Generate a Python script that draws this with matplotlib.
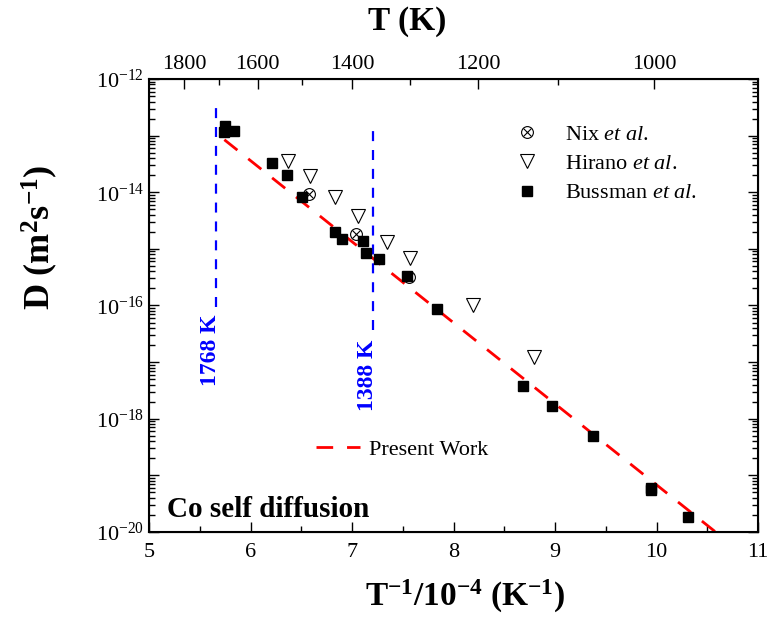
import numpy as np
import matplotlib
matplotlib.use("Agg")
import matplotlib.pyplot as plt
from matplotlib.ticker import FuncFormatter, NullFormatter, MultipleLocator, FixedLocator
from matplotlib.legend_handler import HandlerTuple

plt.rcParams['font.family'] = ['Liberation Serif', 'DejaVu Serif']
plt.rcParams['mathtext.fontset'] = 'custom'
plt.rcParams['mathtext.rm'] = 'Liberation Serif'
plt.rcParams['mathtext.it'] = 'Liberation Serif:italic'
plt.rcParams['mathtext.bf'] = 'Liberation Serif:bold'

# Experimental self-diffusion data (x = 10^4 / T, D in m^2/s)
nix_x = [6.579, 7.036, 7.562]
nix_D = [9.2e-15, 1.8e-15, 3.2e-16]

hirano_x = [6.372, 6.586, 6.833, 7.062, 7.342, 7.571, 8.190, 8.796]
hirano_D = [3.6e-14, 1.9e-14, 8.3e-15, 3.8e-15, 1.3e-15, 6.8e-16, 1.0e-16, 1.25e-17]

bussman_x = [5.749, 5.739, 5.837, 6.215, 6.356, 6.511, 6.833, 6.898, 7.111, 7.135,
             7.266, 7.545, 7.834, 8.688, 8.973, 9.377, 9.946, 9.946, 10.307]
bussman_D = [1.48e-13, 1.16e-13, 1.2e-13, 3.3e-14, 2.0e-14, 8.2e-15, 2.0e-15, 1.5e-15,
             1.4e-15, 8.4e-16, 6.5e-16, 3.35e-16, 8.7e-17, 3.8e-18, 1.7e-18, 5.0e-19,
             6.0e-20, 5.4e-20, 1.85e-20]

# Arrhenius fit of the present work: D = D0 exp(-Q / kT)
D0 = 1.4e-5          # m^2/s
Q = 2.84             # eV
kB = 8.617e-5        # eV/K
T_fit = np.linspace(1741.5, 930.0, 300)
D_fit = D0 * np.exp(-Q / (kB * T_fit))

# Reference temperatures marked by vertical lines
ref_T = [1768, 1388]
ref_labels = ['1768 K', '1388 K']
ref_line_top = [4.3e-13, 1.67e-13]
ref_line_bottom = [9.3e-17, 3.7e-17]
ref_label_D = [1.63e-17, 5.9e-18]

# Axis ranges and tick values
x_range = (5, 11)
decades = list(range(-20, -11))          # 10^-20 ... 10^-12

# Upper temperature axis
top_major_T = [1800, 1600, 1400, 1200, 1000]
top_minor_T = [1700, 1500, 1300, 1100]
top_scale, top_shift = 1.043, 0.45


def t_to_x(T):
    return top_scale * 1e4 / np.asarray(T, dtype=float) - top_shift


fig = plt.figure(figsize=(7.73, 6.19), dpi=100)
ax = fig.add_axes([0.1928, 0.1406, 0.7878, 0.7318])
ax.set_yscale('log')
ax.set_xlim(*x_range)
ax.set_ylim(10.0 ** decades[0], 10.0 ** decades[-1])

fit_line, = ax.plot(1e4 / T_fit, D_fit, color='#ff0000', lw=2.0, dashes=(6, 5),
                    solid_capstyle='butt')

for T, top_d, bot_d, lab, ly in zip(ref_T, ref_line_top, ref_line_bottom, ref_labels, ref_label_D):
    xv = 1e4 / T
    ax.plot([xv, xv], [bot_d, top_d], color='#0000ff', lw=1.6, dashes=(4.5, 4))
    ax.text(xv - 0.05, ly, lab, rotation=90, color='#0000ff', fontsize=17,
            fontweight='bold', ha='center', va='center')

bus, = ax.plot(bussman_x, bussman_D, 's', ms=7.5, color='black', ls='none')
hir, = ax.plot(hirano_x, hirano_D, 'v', ms=10, mfc='none', mec='black', mew=0.8, ls='none')
nix_o, = ax.plot(nix_x, nix_D, 'o', ms=8.5, mfc='none', mec='black', mew=0.8, ls='none')
nix_c, = ax.plot(nix_x, nix_D, 'x', ms=6, color='black', mew=0.8, ls='none')

leg1 = ax.legend([(nix_o, nix_c), hir, bus],
                 [r'Nix $\mathit{et\ al.}$', r'Hirano $\mathit{et\ al.}$', r'Bussman $\mathit{et\ al.}$'],
                 handler_map={tuple: HandlerTuple(ndivide=1)},
                 loc='upper left', bbox_to_anchor=(0.6026, 0.9007), frameon=False,
                 fontsize=16, handlelength=1.0, handletextpad=1.2, labelspacing=0.4,
                 borderpad=0, borderaxespad=0)
ax.add_artist(leg1)
ax.legend([fit_line], ['Present Work'], loc='center left', bbox_to_anchor=(0.274, 0.181),
          frameon=False, fontsize=16, handlelength=2.0, handletextpad=0.4,
          borderpad=0, borderaxespad=0)

ax.text(0.0296, 0.033, 'Co self diffusion', transform=ax.transAxes, fontsize=21,
        fontweight='bold', va='baseline', ha='left')

# Axis ticks (kept strictly inside the visible range)
ax.xaxis.set_major_locator(MultipleLocator(1))
ax.xaxis.set_minor_locator(MultipleLocator(0.5))
ax.yaxis.set_major_locator(FixedLocator([10.0 ** e for e in decades]))
ax.yaxis.set_minor_locator(FixedLocator([m * 10.0 ** e for e in decades[:-1] for m in range(2, 10)]))
ax.yaxis.set_minor_formatter(NullFormatter())


def even_decades(v, pos):
    e = int(round(np.log10(v)))
    return r'$\mathdefault{10^{%d}}$' % e if e % 2 == 0 else ''


ax.yaxis.set_major_formatter(FuncFormatter(even_decades))
ax.tick_params(axis='both', which='both', direction='in', width=1.0, labelsize=16)
ax.tick_params(axis='both', which='major', length=7)
ax.tick_params(axis='both', which='minor', length=4)
ax.tick_params(axis='y', which='both', right=True)
ax.tick_params(axis='x', which='both', top=False, pad=8)
for s in ax.spines.values():
    s.set_linewidth(1.5)

# Temperature scale along the top edge
top = ax.twiny()
top.set_xlim(ax.get_xlim())
top.set_xticks(t_to_x(top_major_T))
top.set_xticklabels([str(t) for t in top_major_T])
top.xaxis.set_minor_locator(FixedLocator(t_to_x(top_minor_T)))
top.tick_params(axis='x', which='both', direction='in', width=1.0, labelsize=16)
top.tick_params(axis='x', which='major', length=7)
top.tick_params(axis='x', which='minor', length=4)

fig.text(0.5265, 0.966, 'T (K)', fontsize=24, fontweight='bold', ha='center', va='center')
fig.text(0.6016, 0.037, r'$\mathbf{T^{-1}/10^{-4}\ (K^{-1})}$', fontsize=24,
         ha='center', va='center')
fig.text(0.052, 0.617, r'$\mathbf{D\ (m^{2}s^{-1})}$', fontsize=26, rotation=90,
         ha='center', va='center')

fig.savefig('out.png', dpi=100)
